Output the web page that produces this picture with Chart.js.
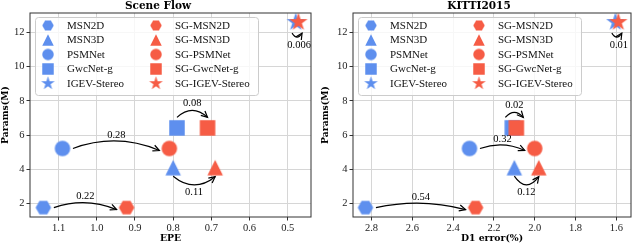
<!DOCTYPE html>
<html>
<head>
<meta charset="utf-8">
<script src="https://cdn.jsdelivr.net/npm/chart.js@4.4.1/dist/chart.umd.min.js"></script>
<style>
  body { margin: 0; background: #fff; }
  .panel { position: absolute; top: 0; width: 320px; height: 244px; }
</style>
</head>
<body>
<div class="panel" style="left:0"><canvas id="sf" width="320" height="244"></canvas></div>
<div class="panel" style="left:320px"><canvas id="kitti" width="320" height="244"></canvas></div>
<script>
// data
const methods = ["MSN2D", "MSN3D", "PSMNet", "GwcNet-g", "IGEV-Stereo"];
const params = [1.77, 4.1, 5.22, 6.42, 12.6];

const sfBase = [1.14, 0.80, 1.09, 0.79, 0.479];
const sfSG = [0.922, 0.69, 0.81, 0.71, 0.472];
const sfGain = ["0.22", "0.11", "0.28", "0.08", "0.006"];

const kittiBase = [2.83, 2.10, 2.32, 2.11, 1.605];
const kittiSG = [2.29, 1.98, 2.00, 2.09, 1.59];
const kittiGain = ["0.54", "0.12", "0.32", "0.02", "0.01"];

const paramTicks = [2, 4, 6, 8, 10, 12];
const epeTicks = [1.1, 1.0, 0.9, 0.8, 0.7, 0.6, 0.5];
const d1Ticks = [2.8, 2.6, 2.4, 2.2, 2.0, 1.8, 1.6];

// styles
const BLUE = "#5e8fee";
const RED = "#f65c45";
const shapes = ["hexagon", "triangle", "circle", "square", "star"];
const arrowKind = ["side", "below", "side", "above", "hook"];
const sfBend = [6, -8.5, 8.5, 7, -4];
const kittiBend = [5.5, -8.5, 4.5, 5, -4];

const SERIF = "'Liberation Serif', serif";
const BOLD = "'DejaVu Serif', serif";

function makeMarker(shape, color, s) {
  const R = shape === "star" ? s * 0.62 : s / 2;
  const size = Math.ceil(2 * R + 4);
  const c = document.createElement("canvas");
  c.width = size; c.height = size;
  const g = c.getContext("2d");
  const m = size / 2;
  g.fillStyle = color;
  g.beginPath();
  if (shape === "hexagon") {
    for (let k = 0; k < 6; k++) {
      const a = k * Math.PI / 3;
      g.lineTo(m + R * Math.cos(a), m + R * Math.sin(a));
    }
  } else if (shape === "triangle") {
    g.moveTo(m, m - R);
    g.lineTo(m + R, m + R);
    g.lineTo(m - R, m + R);
  } else if (shape === "circle") {
    g.arc(m, m, R, 0, Math.PI * 2);
  } else if (shape === "square") {
    g.rect(m - R, m - R, 2 * R, 2 * R);
  } else {
    for (let k = 0; k < 10; k++) {
      const r = k % 2 ? R * 0.382 : R;
      const a = -Math.PI / 2 + k * Math.PI / 5;
      g.lineTo(m + r * Math.cos(a), m + r * Math.sin(a));
    }
  }
  g.closePath();
  g.fill();
  return c;
}

const bigMarks = { base: shapes.map(s => makeMarker(s, BLUE, 15.5)), sg: shapes.map(s => makeMarker(s, RED, 15.5)) };
const smallMarks = { base: shapes.map(s => makeMarker(s, BLUE, 11.5)), sg: shapes.map(s => makeMarker(s, RED, 11.5)) };

// full box round the plot
const framePlugin = {
  id: "frame",
  afterDraw(chart) {
    const { ctx, chartArea: a } = chart;
    ctx.save();
    ctx.strokeStyle = "#333";
    ctx.lineWidth = 1;
    ctx.strokeRect(a.left, a.top, a.right - a.left, a.bottom - a.top);
    ctx.restore();
  }
};

// two-column legend, like matplotlib's ncol=2
const legendPlugin = {
  id: "twoColLegend",
  afterDraw(chart) {
    const { ctx, chartArea: a } = chart;
    const x0 = a.left + 5, y0 = a.top + 4, w = 223, h = 78;
    ctx.save();
    ctx.beginPath();
    ctx.roundRect(x0 + 0.5, y0 + 0.5, w, h, 3);
    ctx.fillStyle = "rgba(255,255,255,0.8)";
    ctx.fill();
    ctx.strokeStyle = "#cccccc";
    ctx.lineWidth = 1;
    ctx.stroke();
    ctx.font = "11px " + SERIF;
    ctx.fillStyle = "#111";
    ctx.textBaseline = "middle";
    methods.forEach((name, i) => {
      const y = y0 + 8.5 + i * 14.5;
      const mb = smallMarks.base[i], ms = smallMarks.sg[i];
      ctx.drawImage(mb, x0 + 13 - mb.width / 2, y - mb.height / 2);
      ctx.fillText(name, x0 + 32, y + 0.5);
      ctx.drawImage(ms, x0 + 121 - ms.width / 2, y - ms.height / 2);
      ctx.fillText("SG-" + name, x0 + 140, y + 0.5);
    });
    ctx.restore();
  }
};

// curved arrows with the gain written next to them
const arrowPlugin = {
  id: "gainArrows",
  afterDatasetsDraw(chart, args, opts) {
    const { ctx, scales: { x, y } } = chart;
    ctx.save();
    ctx.strokeStyle = "#000";
    ctx.fillStyle = "#000";
    ctx.lineWidth = 1.2;
    ctx.font = "10.5px " + SERIF;
    ctx.textAlign = "center";
    ctx.textBaseline = "middle";
    opts.base.forEach((b, i) => {
      const py = y.getPixelForValue(params[i]);
      const bx = x.getPixelForValue(b);
      const sx = x.getPixelForValue(opts.sg[i]);
      const kind = arrowKind[i];
      let p0, p1;
      if (kind === "side") {
        p0 = [bx + 10.5, py];
        p1 = [sx - 10, py + 2];
      } else {
        const off = kind === "above" ? -10.5 : (kind === "hook" ? 11 : 8.5);
        let l = bx, r = sx;
        const minW = kind === "hook" ? 10 : 18;
        if (r - l < minW) {
          const c = (l + r) / 2;
          l = c - minW / 2; r = c + minW / 2;
        }
        p0 = [l, py + off];
        p1 = [r, py + off + (kind === "below" ? 0.5 : 0)];
      }
      const dx = p1[0] - p0[0], dy = p1[1] - p0[1];
      const len = Math.hypot(dx, dy);
      const bend = opts.bend[i];
      const cx = (p0[0] + p1[0]) / 2 + dy / len * 2 * bend;
      const cy = (p0[1] + p1[1]) / 2 - dx / len * 2 * bend;
      ctx.beginPath();
      ctx.moveTo(p0[0], p0[1]);
      ctx.quadraticCurveTo(cx, cy, p1[0], p1[1]);
      ctx.stroke();
      // open arrow head
      const ang = Math.atan2(p1[1] - cy, p1[0] - cx);
      const hl = 7, hw = 0.45;
      ctx.beginPath();
      ctx.moveTo(p1[0] - hl * Math.cos(ang - hw), p1[1] - hl * Math.sin(ang - hw));
      ctx.lineTo(p1[0], p1[1]);
      ctx.lineTo(p1[0] - hl * Math.cos(ang + hw), p1[1] - hl * Math.sin(ang + hw));
      ctx.stroke();
      // label near the top / bottom of the curve
      const mx = 0.25 * p0[0] + 0.5 * cx + 0.25 * p1[0];
      const my = 0.25 * p0[1] + 0.5 * cy + 0.25 * p1[1];
      const ly = bend > 0 ? my - (kind === "above" ? 7.5 : 6) : my + (kind === "hook" ? 8.5 : 7);
      const lx = kind === "hook" ? mx + 2 : mx;
      ctx.fillText(opts.gain[i], lx, ly);
    });
    ctx.restore();
  }
};

function buildChart(id, cfg) {
  const datasets = [];
  methods.forEach((name, i) => {
    datasets.push({
      label: name,
      data: [{ x: cfg.base[i], y: params[i] }],
      pointStyle: bigMarks.base[i],
      order: 1
    });
    datasets.push({
      label: "SG-" + name,
      data: [{ x: cfg.sg[i], y: params[i] }],
      pointStyle: bigMarks.sg[i],
      order: 0
    });
  });

  const tickFont = { family: SERIF, size: 10.5 };
  const labelFont = { family: BOLD, size: 9.3, weight: "bold" };

  return new Chart(document.getElementById(id), {
    type: "scatter",
    data: { datasets },
    options: {
      responsive: false,
      animation: false,
      events: [],
      elements: { point: { radius: 8, hoverRadius: 8 } },
      layout: { padding: { left: 0, right: cfg.padRight, top: 0, bottom: 0 } },
      plugins: {
        legend: { display: false },
        tooltip: { enabled: false },
        title: {
          display: true,
          text: cfg.title,
          color: "#000",
          font: { family: BOLD, size: 10.5, weight: "bold", lineHeight: 1.2 },
          padding: { top: 0, bottom: 0.4 }
        },
        gainArrows: { base: cfg.base, sg: cfg.sg, gain: cfg.gain, bend: cfg.bend }
      },
      scales: {
        x: {
          type: "linear",
          reverse: true,
          min: cfg.xMin,
          max: cfg.xMax,
          afterBuildTicks: s => { s.ticks = cfg.xTicks.map(v => ({ value: v })); },
          afterFit: s => { s.height = 27; },
          ticks: { font: tickFont, color: "#222", padding: 1, maxRotation: 0, autoSkip: false,
                   callback: v => v.toFixed(1) },
          grid: { color: "#d6d6d6", tickColor: "#333", tickLength: 3.5 },
          border: { display: false },
          title: { display: true, text: cfg.xLabel, color: "#000", font: labelFont, padding: { top: 0, bottom: 0 } }
        },
        y: {
          type: "linear",
          min: 1.22,
          max: 13.13,
          afterBuildTicks: s => { s.ticks = paramTicks.map(v => ({ value: v })); },
          afterFit: s => { s.width = cfg.yWidth; },
          ticks: { font: tickFont, color: "#222", padding: 2, autoSkip: false },
          grid: { color: "#d6d6d6", tickColor: "#333", tickLength: 3.5 },
          border: { display: false },
          title: { display: true, text: "Params(M)", color: "#000", font: labelFont, padding: { top: 0, bottom: 0 } }
        }
      }
    },
    plugins: [arrowPlugin, framePlugin, legendPlugin]
  });
}

buildChart("sf", {
  title: "Scene Flow", xLabel: "EPE",
  base: sfBase, sg: sfSG, gain: sfGain, bend: sfBend,
  xMin: 0.439, xMax: 1.175, xTicks: epeTicks,
  yWidth: 30, padRight: 4
});

buildChart("kitti", {
  title: "KITTI2015", xLabel: "D1 error(%)",
  base: kittiBase, sg: kittiSG, gain: kittiGain, bend: kittiBend,
  xMin: 1.528, xMax: 2.891, xTicks: d1Ticks,
  yWidth: 33, padRight: 2
});
</script>
</body>
</html>
